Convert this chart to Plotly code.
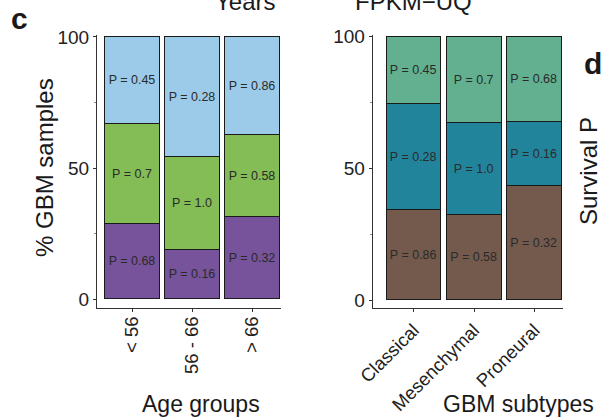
import plotly.graph_objects as go

# ---------------- data ----------------
age_groups = ["< 56", "56 - 66", "> 66"]
age_low = [28.6, 18.7, 31.5]      # purple (bottom)
age_mid = [38.1, 35.5, 31.1]      # green
age_high = [33.3, 45.8, 37.4]     # light blue (top)
age_low_p = ["P = 0.68", "P = 0.16", "P = 0.32"]
age_mid_p = ["P = 0.7", "P = 1.0", "P = 0.58"]
age_high_p = ["P = 0.45", "P = 0.28", "P = 0.86"]

subtypes = ["Classical", "Mesenchymal", "Proneural"]
sub_low = [34.2, 32.4, 43.3]      # brown (bottom)
sub_mid = [40.3, 34.8, 24.3]      # teal
sub_high = [25.5, 32.8, 32.4]     # mint (top)
sub_low_p = ["P = 0.86", "P = 0.58", "P = 0.32"]
sub_mid_p = ["P = 0.28", "P = 1.0", "P = 0.16"]
sub_high_p = ["P = 0.45", "P = 0.7", "P = 0.68"]

y_ticks = [0, 50, 100]
y_minor = [25, 75]

# ---------------- style ----------------
W, H = 601, 419
FONT = "Liberation Sans, Arial, sans-serif"
AX = "#333333"
TXT = "#2a2a2a"


def px(x):
    return x / W


def py(y):
    return 1 - y / H


age_colors = ["#76539b", "#84bc55", "#9bcbe8"]
sub_colors = ["#735a4c", "#22849b", "#62b08f"]

fig = go.Figure()


def add_bars(cats, series, labels, colors, xa, ya):
    for vals, txt, col in zip(series, labels, colors):
        fig.add_trace(go.Bar(
            x=list(range(len(cats))), y=vals, text=txt,
            textposition="inside", insidetextanchor="middle",
            textangle=0, constraintext="none",
            textfont=dict(family=FONT, size=12.5, color=TXT),
            marker=dict(color=col, line=dict(color="#1a1a1a", width=1)),
            width=0.91, xaxis=xa, yaxis=ya, showlegend=False,
            hoverinfo="skip",
        ))


add_bars(age_groups, [age_low, age_mid, age_high],
         [age_low_p, age_mid_p, age_high_p], age_colors, "x", "y")
add_bars(subtypes, [sub_low, sub_mid, sub_high],
         [sub_low_p, sub_mid_p, sub_high_p], sub_colors, "x2", "y2")

ydom = [py(308), py(35)]
common_y = dict(
    domain=ydom, showline=True, linecolor=AX, linewidth=1,
    ticks="outside", ticklen=3, tickcolor=AX, tickwidth=1,
    tickvals=y_ticks, ticktext=[str(v) for v in y_ticks],
    tickfont=dict(family=FONT, size=19, color="#222"),
    showgrid=False, zeroline=False, automargin=False,
    minor=dict(tickvals=y_minor, ticks="outside", ticklen=2, tickcolor="#888"),
)
common_x = dict(
    showline=True, linecolor=AX, linewidth=1,
    ticks="outside", ticklen=3, tickcolor=AX,
    tickfont=dict(family=FONT, size=18.5, color="#222"),
    showgrid=False, zeroline=False, tickmode="array", automargin=False,
)

fig.update_layout(
    width=W, height=H, margin=dict(l=0, r=0, t=0, b=0, autoexpand=False),
    paper_bgcolor="white", plot_bgcolor="white",
    barmode="stack", bargap=0,
    font=dict(family=FONT, color="#222"),
    xaxis=dict(common_x, domain=[px(97), px(281)], range=[-0.59, 2.475],
               tickvals=list(range(len(age_groups))), ticktext=age_groups,
               tickangle=-90, anchor="y", ticklabelstandoff=-3),
    yaxis=dict(common_y, range=[-3.32, 100.76], anchor="x"),
    xaxis2=dict(common_x, domain=[px(372.7), px(563)], range=[-0.68, 2.476],
                tickvals=list(range(len(subtypes))), ticktext=subtypes,
                tickangle=-45, anchor="y2"),
    yaxis2=dict(common_y, range=[-2.88, 100.64], anchor="x2"),
)

ann = [
    dict(text="Age groups", x=px(201), y=py(404), size=23, angle=0),
    dict(text="GBM subtypes", x=px(518), y=py(404), size=23, angle=0),
    dict(text="% GBM samples", x=px(44), y=py(168), size=24, angle=-90),
    dict(text="Survival P", x=px(589), y=py(171), size=24, angle=-90),
    dict(text="Years", x=px(245), y=py(2), size=24, angle=0),
    dict(text="FPKM\u2212UQ", x=px(413.5), y=py(2), size=24, angle=0),
    dict(text="<b>c</b>", x=px(19), y=py(18), size=30, angle=0),
    dict(text="<b>d</b>", x=px(593), y=py(63), size=30, angle=0),
]
for a in ann:
    fig.add_annotation(
        text=a["text"], x=a["x"], y=a["y"], xref="paper", yref="paper",
        xanchor="center", yanchor="middle", showarrow=False,
        textangle=a["angle"],
        font=dict(family=FONT, size=a["size"], color="#1a1a1a"),
    )

fig.write_html("out.html",
               config={"displayModeBar": False},
               post_script="document.body.style.margin='0';"
                           "document.body.style.overflow='hidden';")
